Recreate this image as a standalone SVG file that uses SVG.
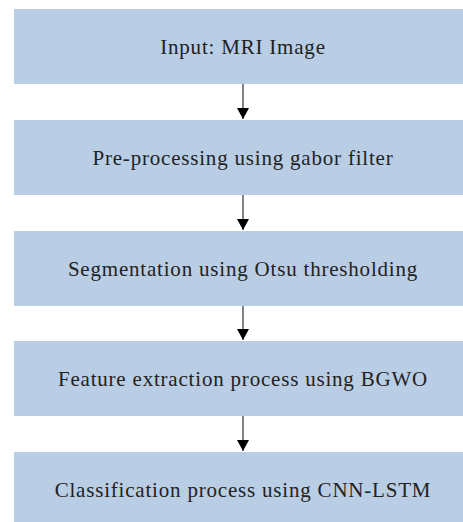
<svg xmlns="http://www.w3.org/2000/svg" width="463" height="522" viewBox="0 0 463 522">
<style>
.box{fill:#b9cde5;}
.lbl{font-family:'Liberation Serif','Times New Roman',serif;font-size:21px;fill:#222;text-anchor:middle;letter-spacing:0.8px;}
.conn{stroke:#333;stroke-width:1.2;fill:none;}
</style>
<defs>
<marker id="ah" viewBox="0 0 11 12" refX="11" refY="6" markerWidth="11" markerHeight="12" markerUnits="userSpaceOnUse" orient="auto">
<path d="M0,0 L11,6 L0,12 Z" fill="#000"/>
</marker>
</defs>
<rect width="463" height="522" fill="#fff"/>
<g id="n1"><rect class="box" x="14" y="9" width="460" height="75"/><text class="lbl" font-family="Liberation Serif, serif" x="243" y="53.5">Input: MRI Image</text></g>
<g id="n2"><rect class="box" x="14" y="120" width="460" height="75"/><text class="lbl" font-family="Liberation Serif, serif" x="243" y="164.5">Pre-processing using gabor filter</text></g>
<g id="n3"><rect class="box" x="14" y="231" width="460" height="75"/><text class="lbl" font-family="Liberation Serif, serif" x="243" y="275.5">Segmentation using Otsu thresholding</text></g>
<g id="n4"><rect class="box" x="14" y="341" width="460" height="75"/><text class="lbl" font-family="Liberation Serif, serif" x="243" y="385.5">Feature extraction process using BGWO</text></g>
<g id="n5"><rect class="box" x="14" y="452" width="460" height="75"/><text class="lbl" font-family="Liberation Serif, serif" x="243" y="496.5">Classification process using CNN-LSTM</text></g>
<g id="connectors">
<path class="conn" d="M243,84 V119" marker-end="url(#ah)"/>
<path class="conn" d="M243,195 V230" marker-end="url(#ah)"/>
<path class="conn" d="M243,306 V340" marker-end="url(#ah)"/>
<path class="conn" d="M243,416 V451" marker-end="url(#ah)"/>
</g>
</svg>
